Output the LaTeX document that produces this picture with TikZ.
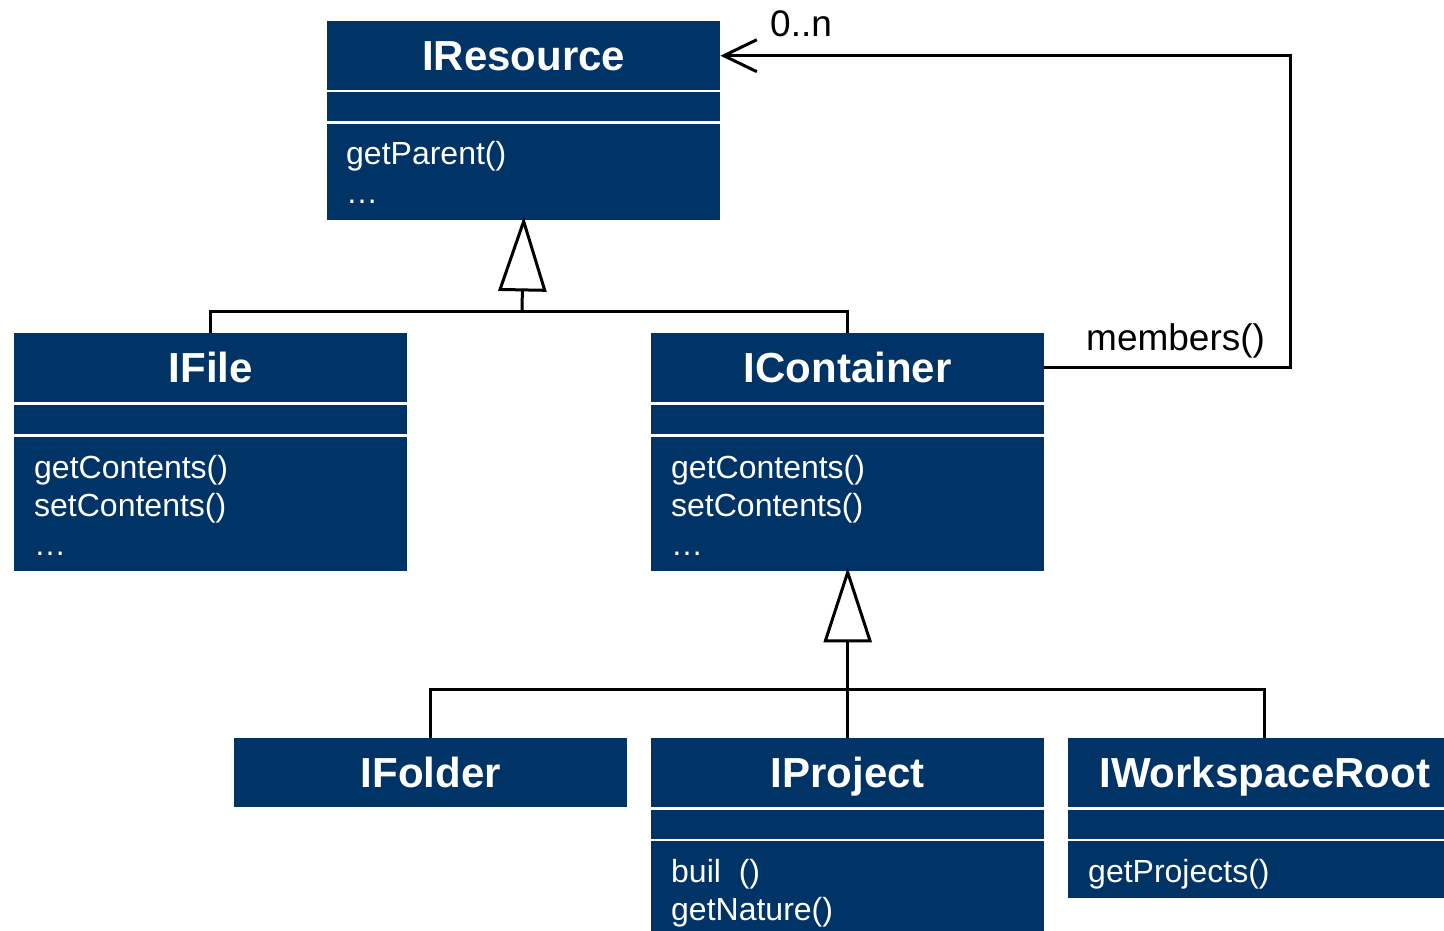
\documentclass[tikz,border=0pt]{standalone}
\usepackage{fontspec}
\setmainfont{Liberation Sans}
\usetikzlibrary{arrows.meta}
\definecolor{uml}{RGB}{0,51,102}
\begin{document}
\begin{tikzpicture}[x=1pt,y=-1pt,
  hdr/.style={fill=uml, draw=none, anchor=north west, minimum width=393pt, minimum height=69pt, inner sep=0pt, text=white, font=\fontsize{42}{50}\selectfont\bfseries, text height=29pt, text depth=0pt},
  attr/.style={fill=uml, draw=none, anchor=north west, minimum width=393pt, minimum height=29pt, inner sep=0pt},
  meth/.style={fill=uml, draw=none, anchor=north west, minimum width=393pt, inner sep=0pt},
  mtext/.style={anchor=base west, text=white, font=\fontsize{32}{38.5}\selectfont, align=left, inner sep=0pt},
  lbl/.style={anchor=base west, text=black, font=\fontsize{37}{42}\selectfont, inner sep=0pt},
  conn/.style={line width=3pt, draw=black},
  gen/.style={conn, shorten >=-4pt, -{Triangle[open, length=75pt, width=48pt]}},
  assoc/.style={conn, -{Straight Barb[length=33pt, width=32pt]}}
]
\useasboundingbox (0,0) rectangle (1444,931);
\fill[white] (0,0) rectangle (1444,931);
\clip (0,0) rectangle (1444,931);

% IResource
\node[hdr] (resH) at (327,21) {IResource};
\node[attr] (resA) at (327,92) {};
\node[meth, minimum height=96pt] (resM) at (327,124) {};
\node[mtext] (resT) at (346,203.5) {getParent()\\…};

% IFile
\node[hdr] (fileH) at (14,333) {IFile};
\node[attr] (fileA) at (14,405) {};
\node[meth, minimum height=134pt] (fileM) at (14,437) {};
\node[mtext] (fileT) at (34,555) {getContents()\\setContents()\\…};

% IContainer
\node[hdr] (conH) at (651,333) {IContainer};
\node[attr] (conA) at (651,405) {};
\node[meth, minimum height=134pt] (conM) at (651,437) {};
\node[mtext] (conT) at (671,555) {getContents()\\setContents()\\…};

% IFolder
\node[hdr] (foldH) at (234,738) {IFolder};

% IProject
\node[hdr] (projH) at (651,738) {IProject};
\node[attr] (projA) at (651,810) {};
\node[meth, minimum height=130pt] (projM) at (651,841) {};
\node[mtext] (projT) at (671,920.5) {buil\ \ ()\\getNature()};

% IWorkspaceRoot
\node[hdr] (wsH) at (1068,738) {IWorkspaceRoot};
\node[attr] (wsA) at (1068,810) {};
\node[meth, minimum height=57pt] (wsM) at (1068,841) {};
\node[mtext] (wsT) at (1088,882) {getProjects()};

% generalization 1
\coordinate (j1) at (522,311);
\draw[conn] (fileH.north) |- (j1);
\draw[conn] (conH.north) |- (j1);
\draw[gen] (j1) -- (resM.south);

% generalization 2
\coordinate (j2) at (848,689);
\draw[conn] (foldH.north) |- (j2);
\draw[conn] (wsH.north) |- (j2);
\draw[gen] (projH.north) -- (conM.south);

% association
\coordinate (rt) at (1290,0);
\draw[assoc] (conH.east) -- (conH.east -| rt) |- (resH.east);
\node[lbl] (mem) at (1086,350) {members()};
\node[lbl] (mult) at (770,37) {0..n};
\end{tikzpicture}
\end{document}
